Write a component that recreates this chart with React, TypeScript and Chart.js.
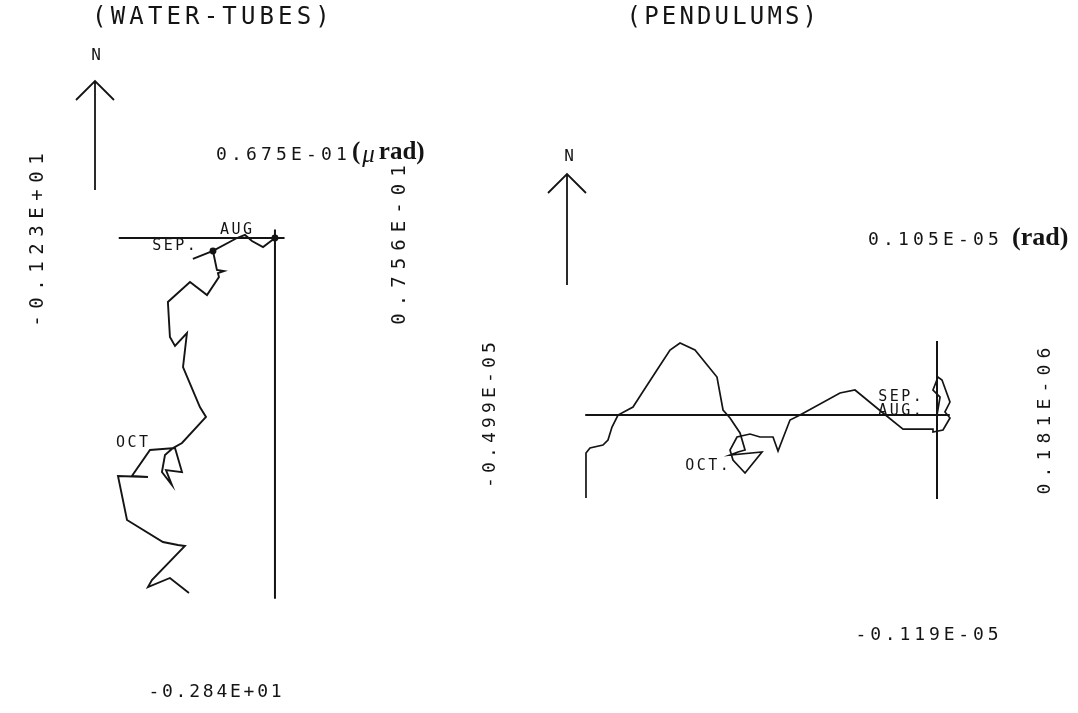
import React, { useEffect, useRef } from "react";
import { Chart, registerables } from "chart.js";
Chart.register(...registerables);

// ---------- DATA ----------
// Water-tube tilt vector path (as plotted), start = AUG at origin
const wtPathX = [0, -0.094, -0.181, -0.236, -0.299, -0.488, -0.646, -0.488, -0.457, -0.402, -0.449, -0.441, -0.535, -0.669, -0.843, -0.827, -0.787, -0.693, -0.724, -0.591, -0.543, -0.732, -0.803, -0.866, -0.89, -0.811, -0.858, -0.732, -0.787, -0.984, -1.126, -1.0, -1.236, -1.165, -0.882, -0.764, -0.709, -0.969, -1.0, -0.827, -0.677];
const wtPathY = [0, -0.071, -0.024, 0.024, 0, -0.102, -0.165, -0.102, -0.252, -0.26, -0.276, -0.307, -0.449, -0.346, -0.504, -0.78, -0.85, -0.748, -1.016, -1.331, -1.409, -1.614, -1.654, -1.709, -1.843, -1.945, -1.827, -1.843, -1.654, -1.669, -1.874, -1.882, -1.874, -2.22, -2.394, -2.417, -2.425, -2.693, -2.748, -2.677, -2.795];
// Pendulum tilt vector path (units: 1e-6 rad), start = AUG at origin
const pdPathX = [0, 0.043, -0.057, 0.014, 0.071, 0.184, 0.113, 0.184, 0.085, -0.057, -0.057, -0.482, -0.766, -1.163, -1.376, -1.943, -2.085, -2.255, -2.326, -2.511, -2.652, -2.837, -2.936, -2.894, -2.723, -2.482, -2.936, -2.823, -2.723, -2.794, -2.936, -3.035, -3.121, -3.433, -3.645, -3.787, -3.972, -4.184, -4.312, -4.525, -4.61, -4.667, -4.738, -4.922, -4.979, -4.979];
const pdPathY = [0, 0.255, 0.355, 0.539, 0.496, 0.184, 0.043, -0.043, -0.213, -0.241, -0.199, -0.199, 0.028, 0.355, 0.312, 0, -0.071, -0.511, -0.312, -0.312, -0.27, -0.312, -0.496, -0.638, -0.823, -0.525, -0.567, -0.525, -0.496, -0.255, -0.043, 0.071, 0.539, 0.922, 1.021, 0.922, 0.638, 0.312, 0.113, 0, -0.17, -0.355, -0.426, -0.468, -0.539, -1.177];

// Frame extents: [west, east, north, south]
const wtExtents = [-1.23, 0.0756, 0.0675, -2.84];
const wtExtentLabels = ["-0.123E+01", "0.756E-01", "0.675E-01", "-0.284E+01"];
const pdExtents = [-4.99, 0.181, 1.05, -1.19];
const pdExtentLabels = ["-0.499E-05", "0.181E-06", "0.105E-05", "-0.119E-05"];

const titles = ["(WATER-TUBES)", "(PENDULUMS)"];
const wtMonths = ["AUG", "SEP.", "OCT"];
const wtMonthX = [-0.307, -0.795, -1.126];
const wtMonthY = [0.063, -0.063, -1.614];
const pdMonths = ["SEP.", "AUG.", "OCT."];
const pdMonthX = [-0.525, -0.525, -3.262];
const pdMonthY = [0.255, 0.057, -0.723];

const INK = "#141414";
const MONO = '"DejaVu Sans Mono"';
const SERIF = '"Liberation Serif"';

function drawMono(ctx: CanvasRenderingContext2D, text: string, x: number, y: number, size: number, pitch: number, align: "left" | "center", rotate = false) {
  ctx.save();
  ctx.font = `${size}px ${MONO}`;
  ctx.fillStyle = INK;
  ctx.textBaseline = "middle";
  ctx.textAlign = "center";
  ctx.translate(x, y);
  if (rotate) ctx.rotate(-Math.PI / 2);
  const w = text.length * pitch;
  const start = align === "center" ? -w / 2 : 0;
  for (let i = 0; i < text.length; i++) {
    ctx.fillText(text[i], start + i * pitch + pitch / 2, 0);
  }
  ctx.restore();
}

function drawSerif(ctx: CanvasRenderingContext2D, text: string, x: number, y: number, font: string) {
  ctx.save();
  ctx.font = font;
  ctx.fillStyle = INK;
  ctx.textBaseline = "middle";
  ctx.textAlign = "left";
  ctx.fillText(text, x, y);
  const w = ctx.measureText(text).width;
  ctx.restore();
  return w;
}

function drawArrow(ctx: CanvasRenderingContext2D, x: number, yTop: number, yBot: number) {
  ctx.save();
  ctx.strokeStyle = INK;
  ctx.lineWidth = 1.8;
  ctx.beginPath();
  ctx.moveTo(x, yBot);
  ctx.lineTo(x, yTop);
  ctx.moveTo(x - 19, yTop + 19);
  ctx.lineTo(x, yTop);
  ctx.lineTo(x + 19, yTop + 19);
  ctx.stroke();
  ctx.restore();
}

const textPlugin = {
  id: "figureText",
  afterDraw(chart: any) {
    const ctx: CanvasRenderingContext2D = chart.ctx;
    const s = chart.scales;
    // titles
    drawMono(ctx, titles[0], 90, 18, 24, 18.6, "left");
    drawMono(ctx, titles[1], 625, 18, 24, 17.6, "left");
    // north arrows
    drawMono(ctx, "N", 96, 56, 16, 12, "center");
    drawArrow(ctx, 95, 81, 190);
    drawMono(ctx, "N", 569, 157, 16, 12, "center");
    drawArrow(ctx, 567, 174, 285);

    // water-tube extents
    drawMono(ctx, wtExtentLabels[0], 38, 240, 19, 18, "center", true);
    drawMono(ctx, wtExtentLabels[1], 400, 245, 19, 18.5, "center", true);
    drawMono(ctx, wtExtentLabels[2], 214, 155, 18, 15, "left");
    let xx = 214 + 9 * 15 + 3;
    xx += drawSerif(ctx, "(", xx, 153, `bold 25px ${SERIF}`) + 2;
    xx += drawSerif(ctx, "\u03bc", xx, 155, `italic 25px ${SERIF}`) + 4;
    drawSerif(ctx, "rad)", xx, 153, `bold 25px ${SERIF}`);
    drawMono(ctx, wtExtentLabels[3], 215, 692, 18, 13.6, "center");

    // pendulum extents
    drawMono(ctx, pdExtentLabels[0], 490, 415, 18, 15, "center", true);
    drawMono(ctx, pdExtentLabels[1], 1045, 421, 18, 17, "center", true);
    drawMono(ctx, pdExtentLabels[2], 866, 240, 18, 15, "left");
    drawSerif(ctx, "(rad)", 1012, 238, `bold 26px ${SERIF}`);
    drawMono(ctx, pdExtentLabels[3], 927, 635, 18, 14.7, "center");

    // month labels
    for (let i = 0; i < wtMonths.length; i++) {
      drawMono(ctx, wtMonths[i], s.xL.getPixelForValue(wtMonthX[i]), s.yL.getPixelForValue(wtMonthY[i]), 15, 11.5, "center");
    }
    for (let i = 0; i < pdMonths.length; i++) {
      drawMono(ctx, pdMonths[i], s.xR.getPixelForValue(pdMonthX[i]), s.yR.getPixelForValue(pdMonthY[i]), 15, 11.5, "center");
    }
  },
};

function pts(xs: number[], ys: number[]) {
  return xs.map((x, i) => ({ x, y: ys[i] }));
}

export default function App() {
  const ref = useRef<HTMLCanvasElement | null>(null);
  useEffect(() => {
    if (!ref.current) return;
    const lineDs = (data: any[], xAxisID: string, yAxisID: string, width: number, radius: any = 0) => ({
      data,
      xAxisID,
      yAxisID,
      showLine: true,
      borderColor: INK,
      backgroundColor: INK,
      borderWidth: width,
      pointRadius: radius,
      pointHoverRadius: 0,
      tension: 0,
      clip: false,
    });
    const wtRadius = wtPathX.map((_, i) => (i === 0 || i === 5 ? 2.5 : 0));
    const chart = new Chart(ref.current, {
      type: "scatter",
      data: {
        datasets: [
          lineDs([{ x: wtExtents[0], y: 0 }, { x: wtExtents[1], y: 0 }], "xL", "yL", 2),
          lineDs([{ x: 0, y: wtExtents[2] }, { x: 0, y: wtExtents[3] }], "xL", "yL", 2),
          lineDs(pts(wtPathX, wtPathY), "xL", "yL", 1.9, wtRadius),
          lineDs([{ x: pdExtents[0], y: 0 }, { x: pdExtents[1], y: 0 }], "xR", "yR", 2),
          lineDs([{ x: 0, y: pdExtents[2] }, { x: 0, y: pdExtents[3] }], "xR", "yR", 2),
          lineDs(pts(pdPathX, pdPathY), "xR", "yR", 1.7),
        ],
      },
      options: {
        animation: false,
        responsive: false,
        maintainAspectRatio: false,
        layout: { padding: 0, autoPadding: false },
        events: [],
        plugins: { legend: { display: false }, tooltip: { enabled: false } },
        scales: {
          xL: { type: "linear", axis: "x", position: "bottom", display: false, min: -2.165, max: 6.323 },
          yL: { type: "linear", axis: "y", position: "left", display: false, min: -3.74, max: 1.874 },
          xR: { type: "linear", axis: "x", position: "bottom", display: false, min: -13.291, max: 2.0 },
          yR: { type: "linear", axis: "y", position: "left", display: false, min: -4.227, max: 5.887 },
        },
      } as any,
      plugins: [textPlugin],
    });
    return () => chart.destroy();
  }, []);
  return (
    <div style={{ position: "fixed", left: 0, top: 0, width: 1078, height: 713, background: "#fff" }}>
      <canvas ref={ref} width={1078} height={713} style={{ display: "block" }} />
    </div>
  );
}
